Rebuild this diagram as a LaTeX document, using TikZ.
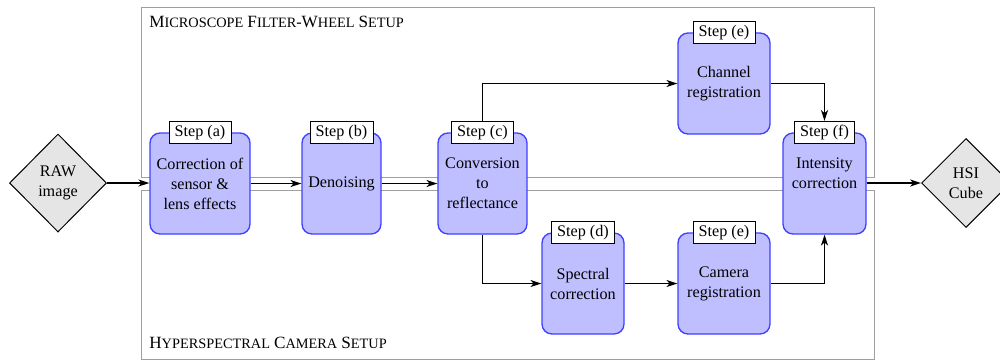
\documentclass[tikz,border=0pt]{standalone}
\usepackage{fontspec}
\setmainfont{Liberation Serif}
\usetikzlibrary{shapes.geometric,arrows.meta}
\newcommand{\fakesc}[2]{{\fontsize{10.3}{12}\selectfont #1}{\fontsize{8.6}{10}\selectfont #2}}
\begin{document}
\begin{tikzpicture}[x=0.6pt,y=-0.6pt,
  font=\fontsize{9.7}{12}\selectfont,
  stepbox/.style={draw=blue!75, line width=0.8pt, fill=blue!25, rounded corners=6pt,
    minimum height=60.6pt, align=center, inner sep=1pt},
  steplbl/.style={draw=black, line width=0.5pt, fill=white, inner xsep=3.4pt, inner ysep=1.8pt,
    text height=7.2pt, text depth=2.4pt},
  datanode/.style={diamond, draw=black, line width=0.6pt, fill=gray!20, align=center, inner sep=0pt, aspect=1},
  setupbox/.style={draw=gray!75, line width=0.5pt},
  arr/.style={draw=black, line width=0.9pt, -{Stealth[length=6.5pt,width=4.2pt,inset=1.8pt]}}]
\useasboundingbox (0,0) rectangle (1000,360);
% setup frames
\draw[setupbox] (141,7) rectangle (874,177);
\draw[setupbox] (141,190) rectangle (874,359);
\node[anchor=base west, inner sep=0pt] (t1) at (149,27) {\fakesc{M}{ICROSCOPE} \fakesc{F}{ILTER}-\fakesc{W}{HEEL} \fakesc{S}{ETUP}};
\node[anchor=base west, inner sep=0pt] (t2) at (149,348) {\fakesc{H}{YPERSPECTRAL} \fakesc{C}{AMERA} \fakesc{S}{ETUP}};
% data
\node[datanode, minimum width=58.2pt, minimum height=58.8pt] (raw) at (58,183) {RAW\\image};
\node[datanode, minimum width=53.4pt, minimum height=53.4pt] (hsi) at (966,183) {HSI\\Cube};
% steps
\node[stepbox, minimum width=60pt] (a) at (200,183.5) {Correction of\\sensor \&\\lens effects};
\node[stepbox, minimum width=47.4pt] (b) at (341.5,183.5) {\raisebox{2pt}{Denoising}};
\node[stepbox, minimum width=53.4pt] (c) at (482.5,183.5) {Conversion\\to\\reflectance};
\node[stepbox, minimum width=55.2pt] (eT) at (724,83.5) {Channel\\registration};
\node[stepbox, minimum width=49.2pt] (d) at (583,283.5) {Spectral\\correction};
\node[stepbox, minimum width=55.2pt] (eB) at (724,283.5) {Camera\\registration};
\node[stepbox, minimum width=49.8pt] (f) at (824.5,183.5) {Intensity\\correction\\\mbox{}};
% labels
\node[steplbl] (la) at (a.north) {Step (a)};
\node[steplbl] (lb) at (b.north) {Step (b)};
\node[steplbl] (lc) at (c.north) {Step (c)};
\node[steplbl] (leT) at (eT.north) {Step (e)};
\node[steplbl] (ld) at (d.north) {Step (d)};
\node[steplbl] (leB) at (eB.north) {Step (e)};
\node[steplbl] (lf) at (f.north) {Step (f)};
% connectors
\draw[arr] (raw.east) -- (a.west |- raw.east);
\draw[arr] (a) -- (b);
\draw[arr] (b) -- (c);
\draw[arr] (lc.north) |- (eT.west);
\draw[arr] (c.south) |- (d.west);
\draw[arr] (d) -- (eB);
\draw[arr] (eT.east) -| (lf.north);
\draw[arr] (eB.east) -| (f.south);
\draw[arr] (f.east |- hsi.west) -- (hsi.west);
\end{tikzpicture}
\end{document}
